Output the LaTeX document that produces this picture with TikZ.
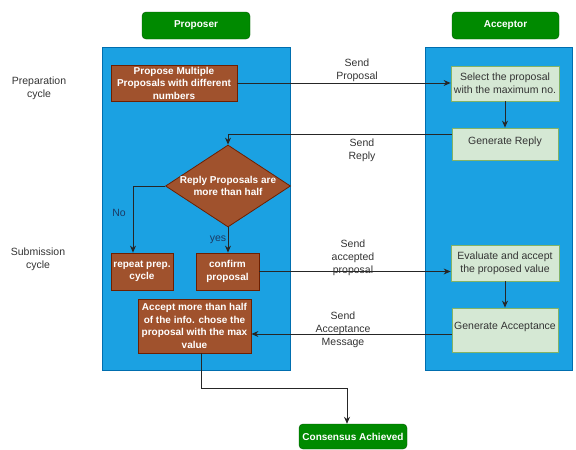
\documentclass[tikz,border=0pt]{standalone}
\usepackage{fontspec}
\setmainfont{Liberation Sans}
\usetikzlibrary{shapes.geometric,arrows.meta,calc}

\definecolor{lanefill}{HTML}{1BA1E2}
\definecolor{laneline}{HTML}{006EAF}
\definecolor{hdrfill}{HTML}{008A00}
\definecolor{hdrline}{HTML}{005700}
\definecolor{actfill}{HTML}{A0522D}
\definecolor{actline}{HTML}{6D1F00}
\definecolor{msgfill}{HTML}{D5E8D4}
\definecolor{msgline}{HTML}{82B366}
\definecolor{inktext}{HTML}{333333}
\definecolor{branchtext}{HTML}{1B3A64}

\tikzset{
  lane/.style={draw=laneline, fill=lanefill, line width=0.8pt, inner sep=0pt},
  header/.style={draw=hdrline, fill=hdrfill, rounded corners=4pt,
    text=white, font=\fontsize{10}{12.5}\selectfont\bfseries, inner sep=0pt},
  action/.style={draw=actline, fill=actfill, line width=0.8pt, text=white,
    font=\fontsize{10}{12.5}\selectfont\bfseries, align=center, inner sep=0pt},
  actiontext/.style={text=white, font=\fontsize{10}{12.5}\selectfont\bfseries,
    align=center, inner sep=0pt},
  message/.style={draw=msgline, fill=msgfill, line width=0.8pt, text=inktext,
    font=\fontsize{10.5}{12.8}\selectfont, align=center, inner sep=0pt},
  decision/.style={diamond, draw=actline, fill=actfill, line width=0.8pt, inner sep=0pt},
  note/.style={text=inktext, font=\fontsize{10.5}{12.8}\selectfont, align=center, inner sep=0pt},
  branch/.style={text=branchtext, font=\fontsize{10.5}{12.8}\selectfont, inner sep=0pt},
  flow/.style={draw=black!85, line width=1pt, -{Stealth[length=7pt,width=6pt]}},
}

\begin{document}
\begin{tikzpicture}[x=1pt, y=-1pt]
  \useasboundingbox (0,0) rectangle (576,450);

  % swimlanes
  \node[lane, minimum width=188, minimum height=323] (plane) at (196,208.5) {};
  \node[lane, minimum width=147, minimum height=323] (alane) at (498.5,208.5) {};

  % lane headers
  \node[header, minimum width=108, minimum height=27] (phdr) at (196,25.5) {Proposer};
  \node[header, minimum width=107, minimum height=27] (ahdr) at (505.5,25.5) {Acceptor};

  % phase labels
  \node[note] (prep) at (39,88) {Preparation\\cycle};
  \node[note] (subm) at (38,259) {Submission\\cycle};

  % proposer steps
  \node[action, minimum width=126, minimum height=36] (propose) at (174,83)
    {Propose Multiple\\Proposals with different\\numbers};
  \node[decision, minimum width=125, minimum height=82] (check) at (228,186) {};
  \node[actiontext] (checktext) at (check.center) {Reply Proposals are\\more than half};
  \node[action, minimum width=62, minimum height=37] (repeat) at (142,271.5) {repeat prep.\\cycle};
  \node[action, minimum width=63, minimum height=37] (confirm) at (227.5,271.5) {confirm\\proposal};
  \node[action, minimum width=113, minimum height=54] (accept) at (194.5,326)
    {Accept more than half\\of the info. chose the\\proposal with the max\\value};

  % acceptor steps
  \node[message, minimum width=108, minimum height=35] (select) at (505,83.5)
    {Select the proposal\\with the maximum no.};
  \node[message, minimum width=106, minimum height=32, text depth=6pt] (reply) at (505,144)
    {Generate Reply};
  \node[message, minimum width=108, minimum height=36] (evaluate) at (505,263)
    {Evaluate and accept\\the proposed value};
  \node[message, minimum width=106, minimum height=44, text depth=9pt] (genacc) at (505,330)
    {Generate Acceptance};

  % outcome
  \node[header, minimum width=108, minimum height=25] (done) at (353,436.5) {Consensus Achieved};

  % message labels
  \node[note] (lsend) at (357,70) {Send\\Proposal};
  \node[note] (lreply) at (362,150) {Send\\Reply};
  \node[note] (laccp) at (353,258) {Send\\accepted\\proposal};
  \node[note] (lmsg) at (343,330) {Send\\Acceptance\\Message};
  \node[branch] (lno) at (119,213) {No};
  \node[branch] (lyes) at (218,240) {yes};

  % connectors
  \draw[flow] (propose.east) -- (propose.east -| select.west);
  \draw[flow] (select.south) -- (reply.north);
  \draw[flow] ([yshift=10pt]reply.west) -| (check.north);
  \draw[flow] (check.west) -| ([xshift=-9pt]repeat.north);
  \draw[flow] (check.south) -- (check.south |- confirm.north);
  \draw[flow] (confirm.east) -- (confirm.east -| evaluate.west);
  \draw[flow] (evaluate.south) -- (genacc.north);
  \draw[flow] ([yshift=-4pt]genacc.west) -- ([yshift=-4pt]genacc.west -| accept.east);
  \coordinate (bend) at ($(accept.south)+(6.5,35)$);
  \draw[flow] ([xshift=6.5pt]accept.south) -- (bend) -| ([xshift=-6pt]done.north);
\end{tikzpicture}
\end{document}
